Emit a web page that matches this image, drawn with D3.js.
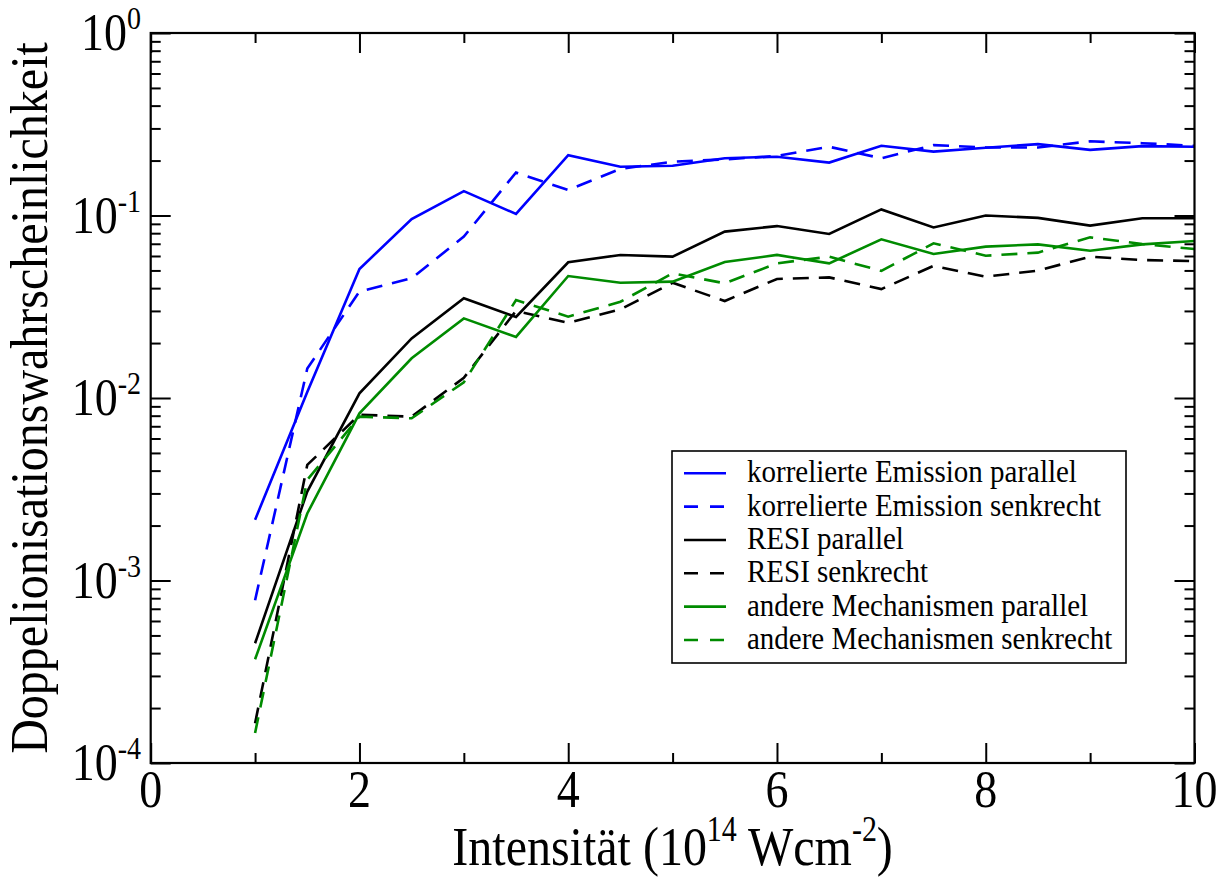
<!DOCTYPE html>
<html>
<head>
<meta charset="utf-8">
<script src="https://cdn.jsdelivr.net/npm/d3@7"></script>
<style>
  html, body { margin: 0; padding: 0; background: #fff; }
  svg { display: block; }
  text { font-family: "Liberation Serif", "Times New Roman", serif; fill: #000; }
</style>
</head>
<body>
<svg id="chart" width="1229" height="879"></svg>
<script>
// Intensity grid (10^14 W/cm^2)
const intensity = [1, 1.5, 2, 2.5, 3, 3.5, 4, 4.5, 5, 5.5, 6, 6.5, 7, 7.5, 8, 8.5, 9, 9.5, 10];

// Double-ionisation probabilities per mechanism and polarisation
const korrParallel   = [0.00215, 0.0108, 0.0509, 0.0957, 0.136, 0.102, 0.214, 0.185, 0.1875, 0.206, 0.210, 0.195, 0.241, 0.224, 0.235, 0.246, 0.229, 0.240, 0.238];
const korrSenkrecht  = [0.00078, 0.0145, 0.0383, 0.0453, 0.0766, 0.172, 0.138, 0.180, 0.197, 0.203, 0.212, 0.238, 0.206, 0.243, 0.236, 0.236, 0.255, 0.249, 0.241];
const resiParallel   = [0.000453, 0.00307, 0.0106, 0.0212, 0.0352, 0.0278, 0.0554, 0.0608, 0.0595, 0.0816, 0.0875, 0.0792, 0.108, 0.086, 0.100, 0.097, 0.088, 0.0965, 0.0965];
const resiSenkrecht  = [0.000165, 0.0043, 0.0081, 0.0079, 0.0129, 0.0300, 0.0258, 0.0306, 0.0428, 0.034, 0.0449, 0.0458, 0.0395, 0.053, 0.0462, 0.0499, 0.0595, 0.057, 0.0563];
const andereParallel = [0.00037, 0.00233, 0.00824, 0.0165, 0.0273, 0.0216, 0.0466, 0.0428, 0.0434, 0.0556, 0.0608, 0.0547, 0.074, 0.0615, 0.0675, 0.0695, 0.0641, 0.0695, 0.0725];
const andereSenkrecht= [0.000146, 0.00356, 0.0079, 0.00774, 0.0122, 0.0344, 0.0279, 0.0337, 0.0482, 0.0425, 0.0547, 0.0595, 0.0497, 0.0704, 0.0602, 0.0626, 0.0759, 0.0698, 0.0655];

const seriesNames = [
  "korrelierte Emission parallel",
  "korrelierte Emission senkrecht",
  "RESI parallel",
  "RESI senkrecht",
  "andere Mechanismen parallel",
  "andere Mechanismen senkrecht"
];

// Axis ticks and labels
const xMajorTicks = [0, 2, 4, 6, 8, 10];
const xMinorTicks = [1, 3, 5, 7, 9];
const yExponents = [0, -1, -2, -3, -4];
const xTitle = ["Intensität (10", "14", " Wcm", "-2", ")"];
const yTitle = "Doppelionisationswahrscheinlichkeit";

const series = [
  { name: seriesNames[0], values: korrParallel,    color: "#0000ff", dashed: false },
  { name: seriesNames[1], values: korrSenkrecht,   color: "#0000ff", dashed: true },
  { name: seriesNames[2], values: resiParallel,    color: "#000000", dashed: false },
  { name: seriesNames[3], values: resiSenkrecht,   color: "#000000", dashed: true },
  { name: seriesNames[4], values: andereParallel,  color: "#008b00", dashed: false },
  { name: seriesNames[5], values: andereSenkrecht, color: "#008b00", dashed: true }
];

const svg = d3.select("#chart");
const L = 150.7, R = 1194.5, T = 33, B = 763;
const STRETCH = 1.16;   // tall serif lettering

const x = d3.scaleLinear().domain([0, 10]).range([L, R]);
const y = d3.scaleLog().domain([1e-4, 1]).range([B, T]);

const DASH = "16,10";

// Data lines (clipped to the frame)
svg.append("clipPath").attr("id", "plot-clip")
  .append("rect").attr("x", L).attr("y", T).attr("width", R - L).attr("height", B - T);

const line = d3.line().x(d => x(d[0])).y(d => y(d[1]));
const plot = svg.append("g").attr("clip-path", "url(#plot-clip)");
series.forEach(s => {
  plot.append("path")
    .datum(intensity.map((v, i) => [v, s.values[i]]))
    .attr("d", line)
    .attr("fill", "none")
    .attr("stroke", s.color)
    .attr("stroke-width", 2.6)
    .attr("stroke-linejoin", "miter")
    .attr("stroke-dasharray", s.dashed ? DASH : null);
});

// Inward ticks on all four sides
function styleAxis(g) {
  g.select(".domain").remove();
  g.selectAll(".tick line").attr("stroke", "#000").attr("stroke-width", 2);
  g.selectAll(".tick text").remove();
}
const yMinorTicks = [];
for (let e = -4; e < 0; e++) for (let m = 2; m <= 9; m++) yMinorTicks.push(m * Math.pow(10, e));
const yMajorTicks = yExponents.map(e => Math.pow(10, e));

svg.append("g").attr("transform", `translate(0,${B})`)
  .call(d3.axisBottom(x).tickValues(xMajorTicks).tickSize(-20).tickFormat("")).call(styleAxis);
svg.append("g").attr("transform", `translate(0,${B})`)
  .call(d3.axisBottom(x).tickValues(xMinorTicks).tickSize(-10).tickFormat("")).call(styleAxis);
svg.append("g").attr("transform", `translate(0,${T})`)
  .call(d3.axisTop(x).tickValues(xMajorTicks).tickSize(-20).tickFormat("")).call(styleAxis);
svg.append("g").attr("transform", `translate(0,${T})`)
  .call(d3.axisTop(x).tickValues(xMinorTicks).tickSize(-10).tickFormat("")).call(styleAxis);
svg.append("g").attr("transform", `translate(${L},0)`)
  .call(d3.axisLeft(y).tickValues(yMajorTicks).tickSize(-20).tickFormat("")).call(styleAxis);
svg.append("g").attr("transform", `translate(${L},0)`)
  .call(d3.axisLeft(y).tickValues(yMinorTicks).tickSize(-10).tickFormat("")).call(styleAxis);
svg.append("g").attr("transform", `translate(${R},0)`)
  .call(d3.axisRight(y).tickValues(yMajorTicks).tickSize(-20).tickFormat("")).call(styleAxis);
svg.append("g").attr("transform", `translate(${R},0)`)
  .call(d3.axisRight(y).tickValues(yMinorTicks).tickSize(-10).tickFormat("")).call(styleAxis);

// Frame
svg.append("rect")
  .attr("x", L).attr("y", T).attr("width", R - L).attr("height", B - T)
  .attr("fill", "none").attr("stroke", "#000").attr("stroke-width", 2.2);

// X tick labels
svg.append("g").selectAll("text").data(xMajorTicks).join("text")
  .attr("transform", d => `translate(${x(d)},${B + 44}) scale(1,${STRETCH})`)
  .attr("text-anchor", "middle")
  .attr("font-size", 46)
  .text(d => d);

// Y tick labels: 10 with superscript exponent
const yLab = svg.append("g").selectAll("text").data(yExponents).join("text")
  .attr("transform", d => `translate(141,${y(Math.pow(10, d)) + 17}) scale(1,${STRETCH})`)
  .attr("text-anchor", "end")
  .attr("font-size", 46);
yLab.append("tspan").text("10");
yLab.append("tspan").attr("font-size", 28).attr("dy", -18).text(d => d === 0 ? "0" : "-" + Math.abs(d));

// X axis title
const xt = svg.append("text")
  .attr("transform", `translate(${(L + R) / 2},865) scale(1,${STRETCH})`)
  .attr("text-anchor", "middle")
  .attr("font-size", 48);
xt.append("tspan").text(xTitle[0]);
xt.append("tspan").attr("font-size", 30).attr("dy", -21).text(xTitle[1]);
xt.append("tspan").attr("dy", 21).text(xTitle[2]);
xt.append("tspan").attr("font-size", 30).attr("dy", -21).text(xTitle[3]);
xt.append("tspan").attr("dy", 21).text(xTitle[4]);

// Y axis title
svg.append("text")
  .attr("transform", `translate(47,${(T + B) / 2}) rotate(-90) scale(1,1.08)`)
  .attr("text-anchor", "middle")
  .attr("font-size", 48)
  .text(yTitle);

// Legend
const lg = svg.append("g");
lg.append("rect")
  .attr("x", 672).attr("y", 451).attr("width", 454).attr("height", 212)
  .attr("fill", "#fff").attr("stroke", "#000").attr("stroke-width", 1.6);
const rowY = d3.scaleLinear().domain([0, series.length - 1]).range([473.3, 640]);
const rows = lg.selectAll("g.row").data(series).join("g").attr("class", "row")
  .attr("transform", (d, i) => `translate(0,${rowY(i)})`);
rows.append("line")
  .attr("x1", 684).attr("x2", 726).attr("y1", 0).attr("y2", 0)
  .attr("stroke", d => d.color).attr("stroke-width", 2.6)
  .attr("stroke-dasharray", d => d.dashed ? "14,12" : null);
rows.append("text")
  .attr("transform", `translate(747,9) scale(1,1.12)`)
  .attr("font-size", 29)
  .text(d => d.name);
</script>
</body>
</html>
